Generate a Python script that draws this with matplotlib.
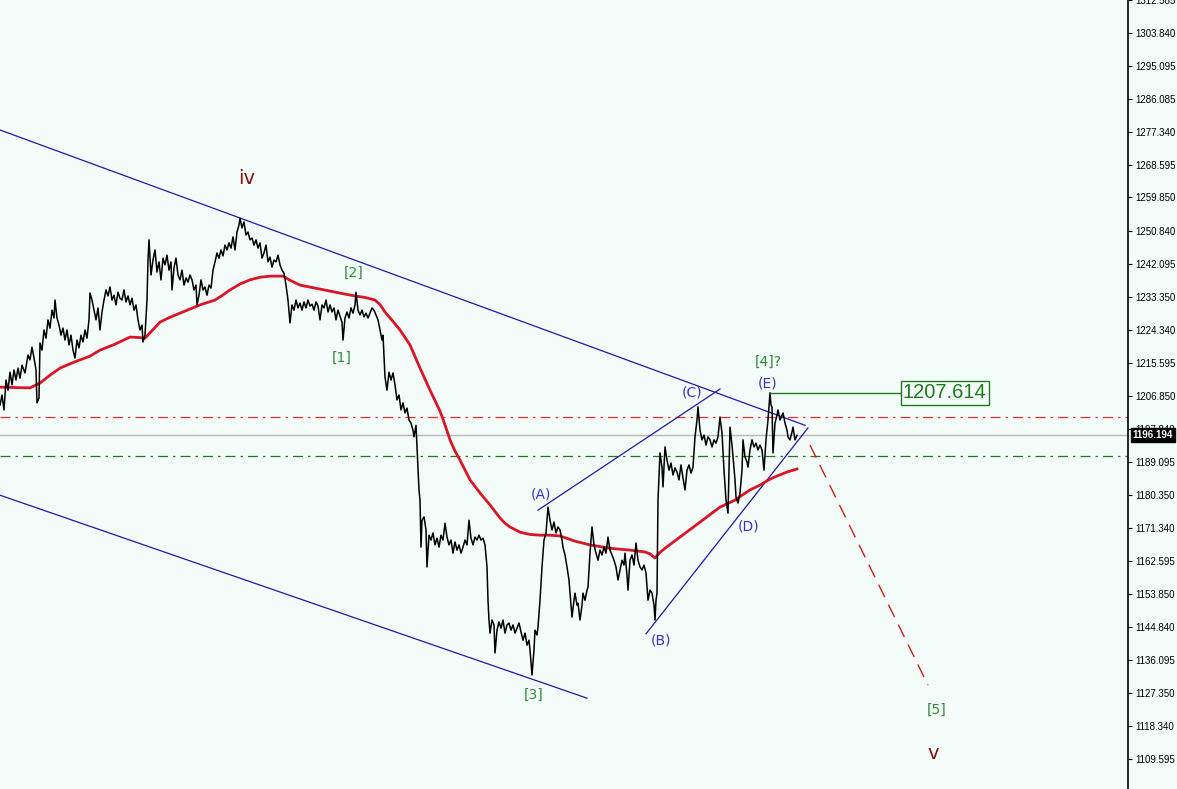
import numpy as np
import matplotlib
matplotlib.use("Agg")
import matplotlib.pyplot as plt
import matplotlib.transforms as mtransforms

# price path (bar index, price)
bars = [0, 2, 4, 6, 8, 10, 12, 14, 16, 18, 20, 22, 25, 28, 30, 32, 34, 36, 37, 39,
        40, 42, 44, 46, 48, 50, 52, 54, 55, 57, 59, 61, 63, 65, 67, 69, 71, 73, 75, 77,
        79, 81, 83, 85, 87, 89, 90, 92, 94, 96, 98, 100, 102, 104, 106, 108, 110, 112, 114, 116,
        118, 120, 122, 124, 126, 128, 130, 132, 134, 136, 138, 140, 142, 143, 145, 147, 148, 149, 151, 153,
        155, 157, 159, 161, 163, 165, 167, 169, 171, 172, 174, 176, 178, 180, 182, 184, 186, 188, 190, 192,
        194, 196, 197, 199, 201, 203, 205, 207, 209, 211, 213, 215, 217, 219, 221, 223, 225, 227, 229, 231,
        233, 235, 237, 239, 240, 242, 244, 246, 248, 250, 252, 254, 256, 258, 260, 262, 264, 266, 268, 270,
        272, 274, 276, 278, 280, 282, 284, 286, 288, 290, 292, 294, 296, 298, 300, 302, 304, 306, 308, 310,
        312, 314, 316, 318, 320, 322, 324, 326, 328, 330, 332, 334, 336, 338, 340, 342, 343, 345, 347, 349,
        351, 353, 355, 356, 358, 360, 362, 364, 366, 368, 370, 372, 374, 376, 378, 380, 382, 383, 385, 387,
        389, 391, 393, 395, 397, 399, 401, 403, 405, 407, 409, 411, 413, 414, 416, 418, 419, 420, 421, 422,
        424, 426, 427, 429, 431, 433, 435, 437, 439, 441, 443, 445, 447, 449, 451, 453, 455, 457, 459, 461,
        463, 465, 467, 469, 471, 473, 475, 477, 479, 481, 483, 485, 487, 488, 489, 490, 492, 494, 495, 497,
        499, 501, 503, 505, 507, 509, 511, 513, 515, 517, 519, 521, 523, 525, 527, 529, 530, 532, 534, 535,
        537, 538, 540, 542, 544, 546, 548, 550, 552, 554, 556, 558, 560, 562, 563, 565, 567, 569, 570, 572,
        574, 575, 577, 578, 580, 582, 583, 585, 587, 588, 590, 592, 594, 596, 598, 600, 602, 604, 606, 608,
        610, 612, 614, 616, 618, 620, 622, 624, 625, 627, 628, 630, 632, 634, 636, 638, 640, 642, 644, 646,
        648, 650, 652, 654, 655, 656, 657, 658, 660, 662, 663, 665, 667, 669, 671, 673, 675, 677, 679, 681,
        683, 685, 687, 689, 691, 693, 695, 697, 698, 700, 702, 704, 706, 708, 710, 712, 714, 716, 718, 720,
        722, 724, 726, 728, 729, 730, 732, 733, 735, 736, 738, 740, 742, 743, 745, 747, 748, 750, 752, 754,
        756, 758, 760, 762, 764, 766, 768, 770, 771, 772, 773, 775, 777, 778, 780, 782, 783, 785, 787, 788,
        790, 792, 793, 795, 797]
close = [1204.3, 1207.0, 1203.0, 1211.0, 1208.3, 1213.1, 1209.7, 1213.7, 1211.0, 1214.2, 1211.5, 1215.0, 1212.9, 1217.7, 1216.4, 1219.8, 1216.9, 1213.7, 1204.9, 1206.2,
         1220.9, 1219.0, 1224.4, 1222.2, 1227.1, 1224.9, 1229.7, 1227.6, 1232.4, 1227.6, 1225.7, 1223.0, 1224.9, 1221.7, 1224.4, 1220.4, 1223.0, 1219.0, 1216.9, 1221.7,
         1219.6, 1223.0, 1221.2, 1224.4, 1222.2, 1227.1, 1234.3, 1232.4, 1229.7, 1227.1, 1230.3, 1224.4, 1229.2, 1232.4, 1235.1, 1233.5, 1235.9, 1232.4, 1233.7, 1231.1,
         1234.5, 1232.9, 1232.4, 1235.1, 1231.9, 1233.5, 1231.1, 1232.9, 1229.7, 1231.1, 1227.1, 1224.4, 1225.7, 1221.2, 1223.0, 1232.4, 1243.1, 1248.5, 1239.1, 1243.1,
         1245.8, 1239.9, 1242.6, 1237.8, 1243.6, 1241.8, 1244.4, 1240.4, 1242.6, 1235.1, 1241.0, 1243.6, 1239.1, 1237.8, 1240.4, 1236.4, 1238.3, 1237.2, 1239.1, 1237.8,
         1235.1, 1236.4, 1231.1, 1233.7, 1237.8, 1235.1, 1235.9, 1233.7, 1236.4, 1235.6, 1240.4, 1242.6, 1245.0, 1243.6, 1245.8, 1244.2, 1247.1, 1245.8, 1247.7, 1246.3,
         1249.3, 1245.8, 1250.6, 1252.5, 1254.3, 1251.7, 1253.3, 1249.8, 1250.6, 1248.5, 1249.0, 1247.1, 1248.5, 1246.3, 1247.7, 1243.6, 1245.0, 1247.1, 1242.6, 1243.9,
         1241.2, 1243.1, 1242.6, 1244.4, 1241.8, 1240.4, 1239.6, 1236.4, 1232.4, 1226.3, 1231.1, 1229.7, 1232.4, 1230.3, 1231.6, 1229.7, 1231.9, 1230.3, 1232.4, 1230.8,
         1231.3, 1229.7, 1231.9, 1230.8, 1227.1, 1231.1, 1230.3, 1232.4, 1229.2, 1231.1, 1229.2, 1230.3, 1227.1, 1229.7, 1228.1, 1226.5, 1221.7, 1227.6, 1229.2, 1227.6,
         1230.3, 1228.9, 1231.1, 1234.5, 1229.7, 1228.4, 1229.7, 1227.9, 1228.9, 1227.6, 1228.9, 1230.3, 1229.7, 1228.4, 1227.1, 1224.4, 1221.7, 1223.0, 1211.8, 1208.3,
         1213.1, 1211.0, 1212.9, 1209.7, 1205.7, 1207.0, 1203.0, 1204.9, 1202.2, 1203.5, 1200.3, 1199.5, 1197.6, 1195.8, 1198.9, 1187.7, 1181.6, 1178.9, 1166.3, 1173.5,
         1174.4, 1170.9, 1161.0, 1169.5, 1168.2, 1170.1, 1166.9, 1168.7, 1166.3, 1169.5, 1168.2, 1172.7, 1169.0, 1166.9, 1168.2, 1164.7, 1167.7, 1165.5, 1166.9, 1164.7,
         1166.3, 1168.2, 1166.9, 1173.5, 1168.7, 1166.9, 1169.0, 1168.2, 1169.5, 1168.2, 1168.7, 1166.9, 1161.0, 1152.1, 1146.8, 1143.3, 1146.8, 1145.5, 1138.0, 1144.1,
         1146.3, 1144.6, 1146.8, 1143.3, 1145.5, 1146.0, 1144.1, 1145.5, 1143.3, 1144.6, 1146.0, 1143.6, 1141.4, 1143.3, 1140.1, 1141.4, 1138.8, 1132.1, 1138.8, 1144.1,
         1142.8, 1144.9, 1152.1, 1161.0, 1168.2, 1170.1, 1177.0, 1173.5, 1170.9, 1173.0, 1170.1, 1171.7, 1170.9, 1168.2, 1166.3, 1164.2, 1161.0, 1157.5, 1154.0, 1147.6,
         1152.1, 1154.0, 1150.8, 1151.3, 1146.8, 1150.8, 1154.0, 1152.1, 1154.8, 1155.6, 1164.7, 1171.7, 1166.9, 1164.7, 1162.8, 1165.5, 1164.2, 1166.3, 1164.7, 1169.0,
         1165.5, 1164.2, 1162.8, 1161.0, 1157.5, 1160.2, 1162.8, 1161.5, 1164.7, 1158.8, 1154.8, 1162.8, 1164.2, 1161.5, 1167.4, 1162.8, 1161.0, 1160.2, 1161.5, 1159.4,
         1152.1, 1154.8, 1154.0, 1150.8, 1146.8, 1152.1, 1154.0, 1178.9, 1191.5, 1187.7, 1182.4, 1193.1, 1189.6, 1186.9, 1188.8, 1185.6, 1187.5, 1186.4, 1184.3, 1188.3,
         1184.8, 1181.6, 1186.9, 1188.3, 1186.1, 1187.7, 1195.8, 1200.3, 1203.8, 1197.6, 1195.0, 1196.3, 1193.6, 1195.8, 1195.0, 1193.1, 1195.0, 1194.1, 1195.8, 1201.1,
         1196.8, 1186.9, 1178.9, 1175.4, 1186.9, 1198.4, 1193.6, 1190.4, 1184.3, 1179.7, 1178.1, 1180.8, 1186.9, 1195.0, 1190.4, 1189.1, 1187.7, 1192.3, 1195.0, 1193.1,
         1194.1, 1192.3, 1193.6, 1192.3, 1186.9, 1195.0, 1200.3, 1207.6, 1204.3, 1203.8, 1191.5, 1199.5, 1201.6, 1203.0, 1200.3, 1201.6, 1202.2, 1199.5, 1197.6, 1195.8,
         1195.0, 1197.1, 1198.4, 1195.0, 1196.2]

# moving average (red)
ma_bars = [0, 15, 30, 40, 50, 60, 75, 90, 100, 115, 130, 138, 145, 152, 160, 170, 180, 190, 200, 215,
           222, 230, 240, 250, 260, 270, 283, 290, 300, 315, 330, 345, 355, 365, 375, 380, 385, 392, 400, 410,
           420, 430, 440, 445, 450, 455, 460, 470, 480, 490, 500, 505, 510, 520, 530, 540, 550, 560, 575, 590,
           610, 630, 645, 650, 655, 660, 665, 672, 680, 690, 700, 710, 720, 728, 735, 742, 750, 760, 768, 775,
           787, 797]
ma = [1209.1, 1209.0, 1208.9, 1210.2, 1212.3, 1214.2, 1215.9, 1217.4, 1219.0, 1220.6, 1222.5, 1222.4, 1222.2, 1224.2, 1226.5, 1227.8, 1228.9, 1230.0, 1231.1, 1232.4,
      1233.6, 1235.1, 1236.7, 1237.8, 1238.5, 1238.8, 1238.8, 1237.7, 1236.4, 1235.6, 1234.8, 1234.0, 1233.5, 1233.1, 1232.4, 1231.2, 1229.2, 1227.0, 1224.4, 1220.4,
      1214.2, 1208.3, 1202.7, 1199.0, 1195.0, 1192.0, 1189.6, 1184.3, 1180.8, 1177.6, 1174.1, 1172.7, 1171.7, 1170.3, 1169.7, 1169.5, 1169.5, 1169.3, 1167.9, 1166.9,
      1166.0, 1165.5, 1165.0, 1164.5, 1163.4, 1164.9, 1166.0, 1167.4, 1169.0, 1171.0, 1173.0, 1175.0, 1177.0, 1178.0, 1178.9, 1180.2, 1181.6, 1182.9, 1184.2, 1185.1,
      1186.4, 1187.2]

# trend lines: (bar0, price0, bar1, price1)
channel_upper = (0, 1277.9, 805, 1198.9)
channel_lower = (0, 1180.2, 587, 1125.9)
line_ac = (538, 1176.2, 720, 1208.6)
line_be = (646, 1143.1, 808, 1198.2)
projection = (810, 1193.6, 928, 1129.4)

level_red = 1201.1
level_green = 1190.7
last_price = 1196.194
target = 1207.614

wave_labels = [
    ("iv", 247, 1265.0, "#8b1010", 14),
    ("[2]", 354, 1239.6, "#2e8b3a", 10),
    ("[1]", 342, 1216.9, "#2e8b3a", 10),
    ("[3]", 534, 1126.9, "#2e8b3a", 10),
    ("(A)", 541, 1180.5, "#3535c8", 10),
    ("(B)", 661, 1141.2, "#3535c8", 10),
    ("(C)", 692, 1207.8, "#3535c8", 10),
    ("(D)", 749, 1171.7, "#3535c8", 10),
    ("(E)", 768, 1210.2, "#3535c8", 10),
    ("[4]?", 768, 1215.8, "#2e8b3a", 10),
    ("[5]", 937, 1122.9, "#2e8b3a", 10),
    ("v", 933, 1111.2, "#8b1010", 14),
]

yticks = [1312.585, 1303.840, 1295.095, 1286.085, 1277.340, 1268.595, 1259.850, 1250.840,
          1242.095, 1233.350, 1224.340, 1215.595, 1206.850, 1197.840, 1189.095, 1180.350,
          1171.340, 1162.595, 1153.850, 1144.840, 1136.095, 1127.350, 1118.340, 1109.595]

bg = "#f4fcf9"
fig = plt.figure(figsize=(11.77, 7.89), dpi=100, facecolor=bg)
ax = fig.add_axes([0, 0, 1128 / 1177, 1])
ax.set_facecolor(bg)
ax.set_xlim(0, 1128)
ax.set_ylim(1101.6, 1312.67)

for s in ["left", "top", "bottom"]:
    ax.spines[s].set_visible(False)
ax.spines["right"].set_color("black")
ax.spines["right"].set_linewidth(1.2)
ax.set_xticks([])
ax.yaxis.tick_right()
ax.set_yticks(yticks)
ax.set_yticklabels([f"{v:.3f}" for v in yticks], family="Liberation Sans")
ax.tick_params(axis="y", length=3, width=0.8, labelsize=7, pad=2, colors="black")

# horizontal levels
ax.axhline(level_red, color="#e03030", lw=0.9, ls=(0, (8, 4, 2, 4)))
ax.axhline(last_price, color="#b8b8b8", lw=1.0)
ax.axhline(level_green, color="#1e7a1e", lw=0.9, ls=(0, (8, 4, 2, 4)))

# channel and triangle lines
for ln in [channel_upper, channel_lower, line_ac, line_be]:
    ax.plot([ln[0], ln[2]], [ln[1], ln[3]], color="#1a1aa8", lw=0.9)
ax.plot([projection[0], projection[2]], [projection[1], projection[3]],
        color="#d02020", lw=1.0, ls=(0, (10, 6)))

# moving average and price
ax.plot(ma_bars, ma, color="#dc1428", lw=2.0)
ax.plot(bars, close, color="black", lw=1.1)

# target marker
ax.plot([770, 901], [target, target], color="#1e7a1e", lw=1.0)
ax.text(903, target, f"{target:.3f}", color="#1e7a1e", fontsize=14.5, va="center", ha="left",
        family="Liberation Sans",
        bbox=dict(boxstyle="square,pad=0.12", fc=bg, ec="#1e7a1e", lw=1.0))

for txt, bx, py, col, fs in wave_labels:
    ax.text(bx, py, txt, color=col, fontsize=fs, ha="center", va="center")

# current price tag on the axis
trans = mtransforms.blended_transform_factory(ax.transAxes, ax.transData)
ax.text(1.004, last_price, f"{last_price:.3f}", transform=trans, color="white", fontsize=7,
        family="Liberation Sans", va="center", ha="left", fontweight="bold",
        bbox=dict(boxstyle="square,pad=0.2", fc="black", ec="black"))

fig.savefig("out.png", dpi=100, facecolor=bg)
